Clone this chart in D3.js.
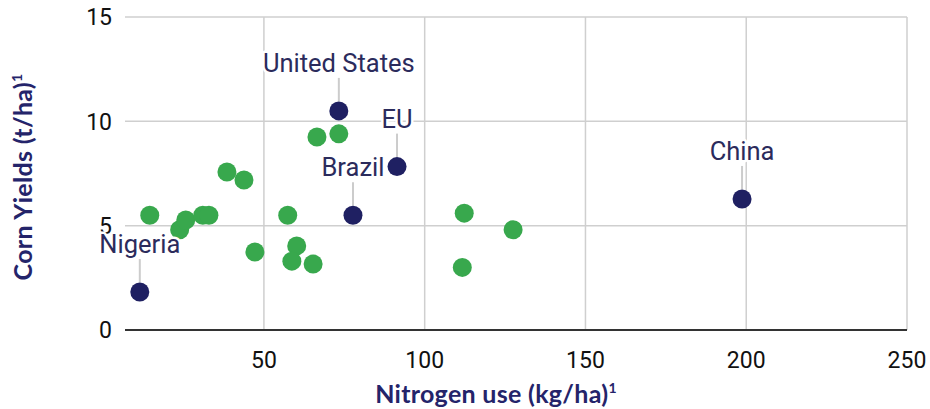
<!DOCTYPE html>
<html>
<head>
<meta charset="utf-8">
<script src="https://cdn.jsdelivr.net/npm/d3@7.9.0/dist/d3.min.js"></script>
<style>
  body { margin: 0; background: #fff; }
  svg { display: block; }
  .tick-label { font-family: Roboto, sans-serif; font-size: 23px; fill: #111; }
  .axis-title { font-family: Lato, sans-serif; font-weight: 700; font-size: 25px; letter-spacing: 0.3px; fill: #24246a; }
  .point-label { font-family: Roboto, sans-serif; font-size: 25.5px; fill: #2b2b5c;
    stroke: #fff; stroke-width: 5px; stroke-linejoin: round; paint-order: stroke; }
</style>
</head>
<body>
<svg id="chart" width="930" height="409"></svg>
<script>
// highlighted countries
const countries = ['Nigeria', 'United States', 'EU', 'Brazil', 'China'];
const countryNitrogen = [11.4, 73.3, 91.4, 77.7, 198.7];
const countryYield = [1.82, 10.5, 7.83, 5.5, 6.28];

// other countries (unlabelled)
const otherNitrogen = [14.5, 23.8, 25.7, 31.0, 32.9, 38.5, 43.8, 47.2, 57.4, 60.2, 58.7, 65.3, 66.5, 73.3, 112.3, 127.5, 111.7];
const otherYield = [5.5, 4.8, 5.27, 5.5, 5.5, 7.57, 7.19, 3.74, 5.5, 4.03, 3.3, 3.16, 9.25, 9.4, 5.6, 4.8, 3.0];

const xTicks = [50, 100, 150, 200, 250];
const yTicks = [0, 5, 10, 15];

const width = 930, height = 409;
const margin = { top: 17, right: 23, bottom: 79, left: 125 };

const svg = d3.select('#chart');

const x = d3.scaleLinear().domain([6.8, 250]).range([margin.left, width - margin.right]);
const y = d3.scaleLinear().domain([0, 15]).range([height - margin.bottom, margin.top]);

// grid
svg.append('g')
  .selectAll('line')
  .data(yTicks.filter(d => d > 0))
  .join('line')
  .attr('x1', margin.left).attr('x2', width - margin.right)
  .attr('y1', d => y(d)).attr('y2', d => y(d))
  .attr('stroke', '#cfcfcf').attr('stroke-width', 1.5);

svg.append('g')
  .selectAll('line')
  .data(xTicks)
  .join('line')
  .attr('x1', d => x(d)).attr('x2', d => x(d))
  .attr('y1', y(15)).attr('y2', y(0))
  .attr('stroke', '#cfcfcf').attr('stroke-width', 1.5);

// baseline
svg.append('line')
  .attr('x1', margin.left).attr('x2', width - margin.right)
  .attr('y1', y(0)).attr('y2', y(0))
  .attr('stroke', '#333').attr('stroke-width', 2);

// tick labels
svg.append('g')
  .selectAll('text')
  .data(yTicks)
  .join('text')
  .attr('class', 'tick-label')
  .attr('x', margin.left - 13)
  .attr('y', d => y(d))
  .attr('dy', '0.36em')
  .attr('text-anchor', 'end')
  .text(d => d);

svg.append('g')
  .selectAll('text')
  .data(xTicks)
  .join('text')
  .attr('class', 'tick-label')
  .attr('x', d => x(d))
  .attr('y', y(0) + 38)
  .attr('text-anchor', 'middle')
  .text(d => d);

// axis titles
const xt = svg.append('text')
  .attr('class', 'axis-title')
  .attr('x', 496).attr('y', 403)
  .attr('text-anchor', 'middle');
xt.append('tspan').text('Nitrogen use (kg/ha)');
xt.append('tspan').attr('font-size', 14).attr('dy', -10).text('1');

const yt = svg.append('text')
  .attr('class', 'axis-title')
  .attr('transform', 'translate(32,177) rotate(-90)')
  .attr('text-anchor', 'middle');
yt.append('tspan').text('Corn Yields (t/ha)');
yt.append('tspan').attr('font-size', 14).attr('dy', -10).text('1');

const r = 9.5;

// other points
svg.append('g')
  .selectAll('circle')
  .data(otherNitrogen.map((n, i) => ({ n, yld: otherYield[i] })))
  .join('circle')
  .attr('cx', d => x(d.n))
  .attr('cy', d => y(d.yld))
  .attr('r', r)
  .attr('fill', '#38a84d');

// highlighted points with labels
const hl = countries.map((name, i) => ({ name, n: countryNitrogen[i], yld: countryYield[i] }));
const labelGap = 39;

svg.append('g')
  .selectAll('line')
  .data(hl)
  .join('line')
  .attr('x1', d => x(d.n)).attr('x2', d => x(d.n))
  .attr('y1', d => y(d.yld) - labelGap + 6)
  .attr('y2', d => y(d.yld) - r)
  .attr('stroke', '#cccccc').attr('stroke-width', 2);

svg.append('g')
  .selectAll('circle')
  .data(hl)
  .join('circle')
  .attr('cx', d => x(d.n))
  .attr('cy', d => y(d.yld))
  .attr('r', r)
  .attr('fill', '#1f2062');

svg.append('g')
  .selectAll('text')
  .data(hl)
  .join('text')
  .attr('class', 'point-label')
  .attr('x', d => x(d.n))
  .attr('y', d => y(d.yld) - labelGap)
  .attr('text-anchor', 'middle')
  .text(d => d.name);
</script>
</body>
</html>
